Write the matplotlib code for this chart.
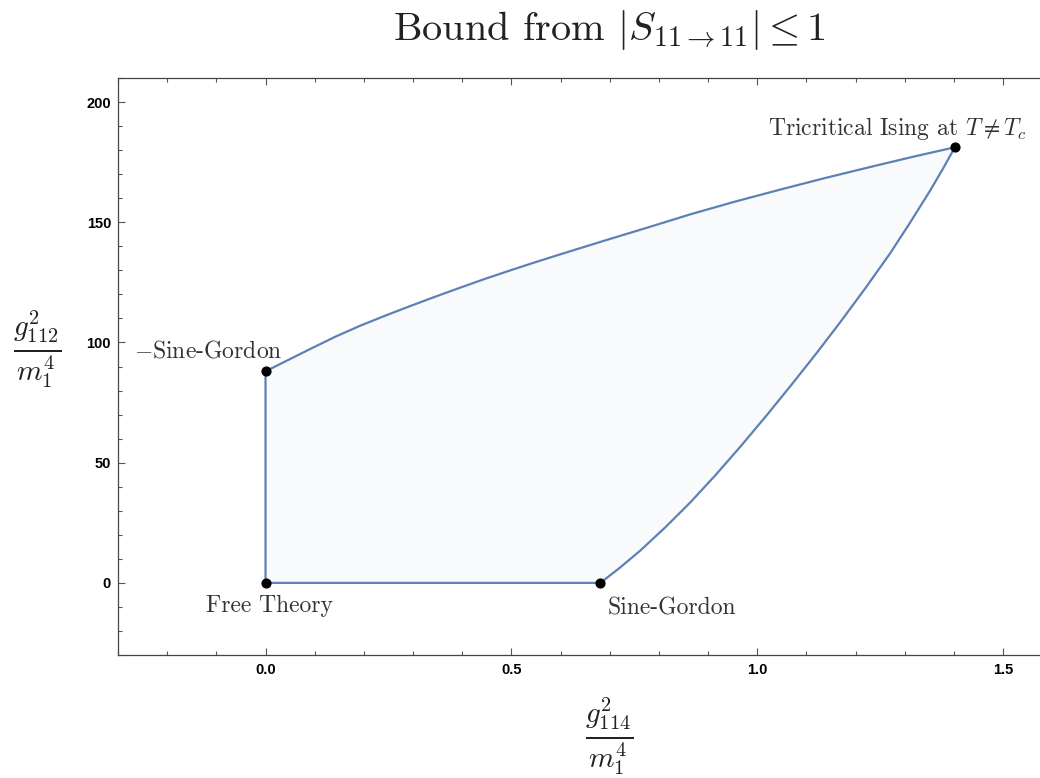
import matplotlib
matplotlib.use("Agg")
import matplotlib.pyplot as plt
from matplotlib.ticker import MultipleLocator, FixedLocator

plt.rcParams['mathtext.fontset'] = 'cm'

# Upper boundary: from the -Sine-Gordon point to the tricritical Ising point
upper_x = [0.0, 0.046, 0.092, 0.142, 0.193, 0.244, 0.295, 0.346, 0.396, 0.447, 0.498,
           0.549, 0.600, 0.690, 0.777, 0.864, 0.955, 1.047, 1.138, 1.230, 1.316, 1.402]
upper_y = [88.0, 92.7, 97.4, 102.4, 107.0, 111.2, 115.2, 119.1, 122.8, 126.5, 130.0,
           133.4, 136.7, 142.4, 147.8, 153.3, 158.6, 163.6, 168.4, 173.0, 177.2, 181.2]

# Lower boundary: from the Sine-Gordon point to the tricritical Ising point
lower_x = [0.681, 0.720, 0.762, 0.813, 0.864, 0.915, 0.965, 1.018, 1.070, 1.120,
           1.169, 1.220, 1.270, 1.311, 1.352, 1.378, 1.402]
lower_y = [0.0, 6.2, 13.4, 23.1, 33.5, 44.8, 56.5, 69.4, 82.5, 95.4,
           108.5, 122.6, 137.0, 149.9, 163.3, 172.4, 181.2]

# Named theories on the boundary
point_names = ["Free Theory", r"$-$Sine-Gordon", "Sine-Gordon", r"Tricritical Ising at $T\neq T_c$"]
point_x = [0.0, 0.0, 0.681, 1.402]
point_y = [0.0, 88.0, 0.0, 181.2]

x_ticks = [0.0, 0.5, 1.0, 1.5]
y_ticks = [0, 50, 100, 150, 200]

line_color = "#5e81b5"
fill_color = "#f8fafc"
text_color = "#333333"

fig = plt.figure(figsize=(10.4, 7.78), dpi=100)
ax = fig.add_axes([118 / 1040, 123 / 778, 922 / 1040, 577 / 778])

# closed boundary of the allowed region
poly_x = [point_x[0]] + lower_x + upper_x[::-1] + [point_x[0]]
poly_y = [point_y[0]] + lower_y + upper_y[::-1] + [point_y[0]]
ax.fill(poly_x, poly_y, color=fill_color, zorder=1, lw=0)
ax.plot(poly_x, poly_y, color=line_color, lw=1.6, zorder=2, solid_joinstyle='round')

ax.scatter(point_x, point_y, s=40, color="black", zorder=3)

label_pos = [(0.009, -9.5), (-0.116, 96.3), (0.827, -10.5), (1.285, 189.2)]
for name, (lx, ly) in zip(point_names, label_pos):
    ax.text(lx, ly, name, ha='center', va='center', fontsize=17,
            family='cmr10', color=text_color)

ax.set_xlim(-0.3, 1.575)
ax.set_ylim(-30, 210)

ax.xaxis.set_major_locator(FixedLocator(x_ticks))
ax.xaxis.set_minor_locator(MultipleLocator(0.1))
ax.yaxis.set_major_locator(FixedLocator(y_ticks))
ax.yaxis.set_minor_locator(MultipleLocator(10))
ax.set_xticklabels([f"{t:.1f}" for t in x_ticks])
ax.set_yticklabels([str(t) for t in y_ticks])

ax.tick_params(which='both', direction='in', top=True, right=False,
               color='#555555', width=0.8, labelsize=10.5)
ax.tick_params(which='major', length=5)
ax.tick_params(which='minor', length=3)
ax.tick_params(axis='x', pad=6)
ax.tick_params(axis='y', pad=5)
for lab in ax.get_xticklabels() + ax.get_yticklabels():
    lab.set_fontweight('bold')
    lab.set_family('Liberation Sans')

for side in ['left', 'bottom', 'top']:
    ax.spines[side].set_color('#444444')
    ax.spines[side].set_linewidth(0.9)
ax.spines['right'].set_visible(False)

fig.text(609 / 1040, 1 - 30 / 778, r"Bound from $|S_{11\to 11}| \leq 1$",
         ha='center', va='center', fontsize=29, family='cmr10', color='#222222')
fig.text(609 / 1040, 1 - 737 / 778, r"$\frac{g_{114}^{2}}{m_1^{4}}$",
         ha='center', va='center', fontsize=30, color='#222222')
fig.text(37 / 1040, 1 - 350 / 778, r"$\frac{g_{112}^{2}}{m_1^{4}}$",
         ha='center', va='center', fontsize=30, color='#222222')

fig.savefig("out.png", dpi=100)
